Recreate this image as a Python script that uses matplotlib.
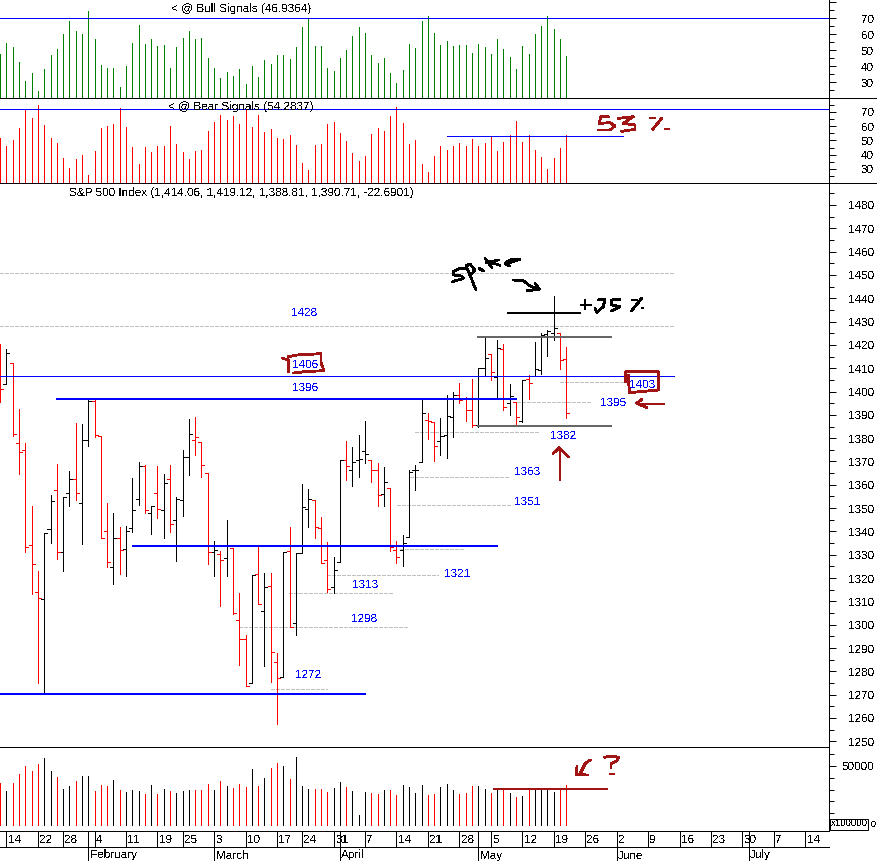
import matplotlib
matplotlib.use("Agg")
import matplotlib.pyplot as plt
from matplotlib.ticker import MultipleLocator, FixedLocator, NullFormatter, FixedFormatter

plt.rcParams['font.family'] = ['Liberation Sans', 'DejaVu Sans']
plt.rcParams['text.antialiased'] = False
plt.rcParams['text.hinting'] = 'no_hinting'

# ---------- data ----------
bull = [47.7,54.6,52.1,42.7,30.8,35.8,24.6,38.3,47.1,50.8,60.2,68.3,62.1,60.2,74.6,57.1,40.8,39,39,27.1,
        40.2,54.6,65.8,54,57.1,52.7,53.3,39,52.1,57.7,62.1,57.1,57.7,45.2,39,32.7,36.5,34,38.3,29,
        40.2,33.3,44,41.5,47.1,47.1,44.6,52.1,64.6,69.6,52.7,52.7,39,37.1,45.2,50.2,59,64.6,60.8,47.1,
        42.1,45.2,35.8,29.6,37.7,54,51.5,68.3,71.5,60.8,53.3,55.8,52.7,53.3,53.3,48.3,54,52.1,47.7,57.1,
        50.8,45.8,38.3,52.7,47.7,60.2,65.2,71.5,63.3,57.1,46.5]
bear = [51.7,46.1,50.3,58.7,71.3,65.7,74.8,60.8,51.7,48.2,37.7,30.7,37,39.8,25.8,42.6,58.7,60.1,61.5,72.7,
        59.4,45.4,33.5,45.4,41.9,46.1,46.1,60.1,47.5,41.9,37,42.6,43.3,56.6,62.9,67.8,64.3,67.1,61.5,72,
        59.4,67.8,55.9,58,51.7,51,53.8,46.8,34.2,29.3,46.8,47.5,61.5,62.9,55.2,49.6,41.2,35.6,39.1,54.5,
        58.7,56.6,67.1,73.4,62.2,47.5,50.3,33.5,27.9,39.1,46.1,43.3,46.1,48.2,46.1,51,46.1,48.2,53.1,42.6,
        48.9,53.8,63.6,48.9,53.8,43.3,38.4,30,37.7,44.7,53.8]
opens = [1420,1403.4,1412.4,1378.1,1375.1,1334.4,1313.9,1310.9,1340.9,1357.6,1331,1356.3,1362.7,1352.4,1379.4,1396.1,1381,1340,1324.6,1337.4,
         1332.3,1341.3,1353.7,1368,1348.1,1356.3,1349,1362.7,1344.7,1353.3,1372.1,1379.4,1378.4,1364.9,1331,1330.2,1328.5,1332.8,1302,1293.9,
         1274.9,1321.7,1305.9,1316.5,1283.9,1277.5,1331.5,1300.6,1330.6,1349.5,1353.5,1341.3,1327.6,1316.3,1327,1370.6,1366.2,1370.6,1374.3,1370.6,
         1366.3,1355.9,1358.6,1332,1332,1337.6,1366.3,1369.6,1388,1386.9,1379,1381.2,1389,1398.5,1396.8,1391.9,1385.6,1410.2,1416.1,1406.2,
         1418.2,1394.9,1395.6,1387.4,1405.2,1406.5,1409.1,1424.6,1425.1,1425.1,1414.06]
highs = [1420.6,1418.4,1412.4,1392.4,1378.1,1350.9,1323,1339.2,1355.6,1368.9,1354.6,1365.9,1386.3,1386,1396.3,1396.3,1381,1352.1,1347.9,1341.9,
         1342.3,1362.9,1369.7,1368.4,1350.9,1368,1364.6,1368.4,1354.6,1374.9,1388.1,1389,1378.4,1364.9,1335.9,1331.6,1344.9,1332.8,1313.5,1295.6,
         1321.3,1333.5,1322.3,1322.3,1287.8,1331,1342,1330.9,1360.3,1358.2,1353.5,1346.2,1335.5,1329,1370.6,1378.8,1376.2,1381.3,1387.3,1370.6,
         1369.3,1367.6,1358.6,1335.9,1338.5,1366.3,1368.5,1396.8,1390.6,1386.9,1388.6,1398.5,1399.8,1403.6,1397.8,1405.4,1410.2,1422.9,1416.1,1422.1,
         1420.4,1403.2,1395.6,1404.9,1407.1,1421.2,1425.1,1426.4,1440.9,1425.1,1419.12]
lows = [1395.6,1403.4,1381,1364.6,1331.1,1313.1,1275.1,1270.6,1335.1,1328.1,1323.1,1350.9,1353.4,1334.6,1376.6,1380.6,1337.3,1324.7,1317.4,1321.7,
        1320.9,1339.7,1351.4,1347.9,1338.9,1345.7,1337.1,1339.7,1327.3,1346.6,1364.1,1372.7,1363.3,1326,1320.9,1308,1321,1304.5,1282.8,1273.8,
        1274.9,1308.9,1282.5,1275.6,1257.5,1277.5,1299.2,1295.6,1330.6,1342,1337.2,1326.3,1314.2,1313.5,1327,1362,1359.5,1363.3,1369.3,1361.2,
        1350.9,1350.9,1331.6,1326.5,1325.2,1337.6,1357.8,1369.6,1379.6,1370.2,1372.8,1371.5,1380.7,1395.1,1387.4,1384.9,1384.9,1406.5,1404.9,1397.6,
        1392.1,1389.9,1385.5,1386.9,1396.8,1406.5,1407.5,1415.2,1422.1,1409.6,1388.81]
closes = [1401.3,1416.7,1381.6,1373.9,1333.4,1325.9,1311.3,1339.2,1352.9,1331,1354.6,1362.7,1356.3,1379.1,1396.1,1381.4,1337.4,1327.1,1337.4,1331.9,
          1340,1349.4,1367.9,1349.4,1350.9,1349.6,1360.6,1343,1353.9,1372.1,1382,1380.7,1368.3,1331,1331.9,1327.6,1333.9,1304.9,1293.9,1273.8,
          1321.3,1308.9,1316,1288.5,1277,1331,1299.2,1330.9,1350.5,1353.9,1341.9,1326.3,1315.3,1323.3,1370.6,1368.2,1369.8,1371.1,1373,1366.3,
          1355.5,1361.2,1333.3,1328.9,1334.9,1365.5,1366.3,1391,1387.5,1376.5,1380.9,1389.6,1398.5,1396.4,1392,1385.6,1409.9,1414.2,1408.2,1418.6,
          1393.4,1398.1,1389,1404.9,1403.5,1409.5,1424.2,1425.9,1427.1,1413.6,1390.71]
volume = [35300,28900,35300,43300,49700,45700,51300,57000,45700,40900,30500,32900,37700,41700,41700,28900,33700,32900,38500,29700,
          28100,29700,28900,26500,33700,26500,30500,28900,27300,28900,29700,29700,29700,34500,29700,36900,32900,31300,34500,32100,
          47300,32900,40100,48100,52900,49700,39300,57800,32900,30500,30500,30500,28100,31300,36100,32100,28900,8800,28100,27300,
          26500,29700,29700,25700,33700,32100,27300,33700,25700,26500,32100,34500,29700,26500,27300,32900,32900,30500,27300,30500,
          30500,27300,24100,24900,30500,30500,30500,30500,28100,30500,33700]
week_idx = [1,6,10,15,20,25,29,34,39,44,48,53,58,63,68,73,78,83,88,93,98,103,108,113,118,123,128]
week_lab = ['14','22','28','4','11','19','25','3','10','17','24','31','7','14','21','28','5','12','19','26','2','9','16','23','30','7','14']
month_idx = [14,34,54,76,98,119]
month_lab = ['February','March','April','May','June','July']
gray_levels = [(1450.7,0,107.1),(1428,0,107.1),(1404.3,89,99.3),(1395.7,82.2,93.9),(1382.7,65.9,85.5),(1363.5,65.2,80.7),
               (1351.5,63.1,81),(1332.3,63.6,73.9),(1321.5,52,69.6),(1313.8,45.9,62.6),(1298.9,38,65),(1272.5,43,52)]
thick_blue = [(1396.7,8.9,82.2),(1333.6,20.9,79.1),(1270.3,0,58.2)]
thick_gray = [(1423.3,75.8,97.3),(1385.3,75.8,97.3)]

W, H = 877, 861
BLUE, RED, GREEN, DRED, GLINE = '#0000ff', '#ff0000', '#008000', '#a01414', '#c0c0c0'
PX = 0.72  # one pixel in points at dpi 100
FS = 8.5
AXX = 828.7

fig = plt.figure(figsize=(W/100, H/100), dpi=100, facecolor='white')

def panel(top, bot, ylim):
    ax = fig.add_axes([0, 1-bot/H, AXX/W, (bot-top)/H])
    ax.set_xlim(-0.03, (AXX-0.2)/6.29)
    ax.set_ylim(*ylim)
    ax.patch.set_alpha(0)
    for s in ['top', 'bottom', 'left']:
        ax.spines[s].set_visible(False)
    ax.spines['right'].set_linewidth(PX)
    ax.spines['right'].set_antialiased(False)
    ax.xaxis.set_visible(False)
    ax.yaxis.tick_right()
    ax.tick_params(axis='y', which='major', length=5, width=PX, pad=27.6, labelsize=FS)
    ax.tick_params(axis='y', which='minor', length=3.6, width=PX)
    return ax

is_down = [closes[0] < 1425] + [closes[i] < closes[i-1] for i in range(1, len(closes))]
bar_col = [RED if d else 'black' for d in is_down]
idx = list(range(len(closes)))

# ---- signal panels ----
ax1 = panel(0, 98.3, (20, 20+98.3/1.6))
ax1.vlines(idx, 20, bull, colors=GREEN, linewidth=PX, antialiased=False)
ax1.hlines(70, -1, 140, colors=BLUE, linewidth=PX, antialiased=False, zorder=5)
ax2 = panel(98.3, 183.3, (20, 20+85/1.43))
ax2.vlines(idx, 20, bear, colors=RED, linewidth=PX, antialiased=False)
ax2.hlines(71.9, -1, 140, colors=BLUE, linewidth=PX, antialiased=False, zorder=5)
ax2.hlines(52.9, 71, 99, colors=BLUE, linewidth=PX, antialiased=False, zorder=5)
for ax in (ax1, ax2):
    ax.yaxis.set_major_locator(FixedLocator([30, 40, 50, 60, 70, 80]))
    ax.yaxis.set_major_formatter(FixedFormatter(['30', '40', '50', '60', '70', '']))
    ax.yaxis.set_minor_locator(MultipleLocator(5))
    ax.yaxis.set_minor_formatter(NullFormatter())
    for t in ax.get_yticklabels():
        t.set_ha('right')

# ---- price panel ----
sc = (741.3-205)/230
ax3 = panel(183.3, 747.3, (1250-(747.3-741.3)/sc, 1480+(205-183.3)/sc))
for y, a, b in gray_levels:
    ax3.hlines(y, a, b, colors=GLINE, linewidth=PX, linestyles=(0, (4, 2)), antialiased=False, zorder=1)
ax3.vlines(idx, lows, highs, colors=bar_col, linewidth=PX, antialiased=False, zorder=3)
ax3.hlines(opens, [i-0.48 for i in idx], idx, colors=bar_col, linewidth=PX, antialiased=False, zorder=3)
ax3.hlines(closes, idx, [i+0.48 for i in idx], colors=bar_col, linewidth=PX, antialiased=False, zorder=3)
for y, a, b in thick_blue:
    ax3.hlines(y, a, b, colors=BLUE, linewidth=2*PX, antialiased=False, zorder=5)
for y, a, b in thick_gray:
    ax3.hlines(y, a, b, colors='#666666', linewidth=2*PX, antialiased=False, zorder=5)
ax3.hlines(1406.5, -1, 107.1, colors=BLUE, linewidth=PX, antialiased=False, zorder=5)
ax3.hlines(1433.8, 80.6, 92.3, colors='black', linewidth=2*PX, antialiased=False, zorder=5)
ax3.yaxis.set_major_locator(MultipleLocator(10))
ax3.yaxis.set_minor_locator(MultipleLocator(5))
ax3.yaxis.set_minor_formatter(NullFormatter())
for t in ax3.get_yticklabels():
    t.set_ha('right')

# ---- volume panel ----
vs = 59/50000
ax4 = panel(747.3, 830.7, (-5.7/vs, 77.7/vs))
ax4.vlines(idx, 0, volume, colors=bar_col, linewidth=PX, antialiased=False)
ax4.hlines(30500, 78.3, 96.6, colors=DRED, linewidth=2*PX, antialiased=False, zorder=5)
ax4.yaxis.set_major_locator(FixedLocator([50000]))
ax4.yaxis.set_major_formatter(FixedFormatter(['50000']))
ax4.yaxis.set_minor_locator(MultipleLocator(10000))
ax4.yaxis.set_minor_formatter(NullFormatter())
for t in ax4.get_yticklabels():
    t.set_ha('right')

# ---- date rows ----
ax5 = fig.add_axes([0, 0, AXX/W, (H-830.7)/H])
ax5.set_xlim(-0.03, (AXX-0.2)/6.29)
ax5.set_ylim(H, 830.7)
ax5.axis('off')
ax5.vlines(week_idx, 830.7, 846.7, colors='black', linewidth=PX, antialiased=False)
ax5.vlines(month_idx, 830.7, 861, colors='black', linewidth=PX, antialiased=False)
for i, s in zip(week_idx, week_lab):
    ax5.text(i+0.25, 840, s, fontsize=FS, va='center', ha='left')
for i, s in zip(month_idx, month_lab):
    ax5.text(i+0.25, 855.5, s, fontsize=FS, va='center', ha='left')

# ---- overlay in picture pixels: frame lines, labels, hand drawing ----
ov = fig.add_axes([0, 0, 1, 1])
ov.set_xlim(0, W)
ov.set_ylim(H, 0)
ov.axis('off')
ov.patch.set_alpha(0)
for y, xe in [(98.3, W), (183.3, W), (747.3, AXX), (830.7, AXX), (846.7, AXX)]:
    ov.plot([0, xe], [y, y], color='black', lw=PX, antialiased=False, solid_capstyle='butt')

ov.text(171, 9, '< @ Bull Signals (46.9364)', fontsize=FS, va='center', ha='left')
ov.text(168, 107.5, '< @ Bear Signals (54.2837)', fontsize=FS, va='center', ha='left')
ov.text(69, 193.5, 'S&P 500 Index (1,414.06, 1,419.12, 1,388.81, 1,390.71, -22.6901)', fontsize=FS, va='center', ha='left')

for s, x, y in [('1428', 304, 312), ('1406', 305, 364), ('1396', 305, 387), ('1395', 613, 402), ('1403', 642, 384),
                ('1382', 563, 435), ('1363', 527, 471), ('1351', 527, 501), ('1321', 457, 573), ('1313', 365, 584),
                ('1298', 364, 618), ('1272', 308, 674)]:
    ov.text(x, y+0.5, s, color=BLUE, fontsize=FS, va='center', ha='center')

ov.text(849, 824.5, 'x100000', fontsize=6.9, va='center', ha='center',
        bbox=dict(boxstyle='square,pad=0.1', fc='white', ec='black', lw=PX))
ov.text(870.5, 824.5, '0', fontsize=6.5, va='center', ha='left')

def draw(ox, oy, strokes, color, lw=1.8):
    for st in strokes:
        ov.plot([ox+p[0]/3 for p in st], [oy+p[1]/3 for p in st], color=color, lw=lw*PX,
                antialiased=False, solid_joinstyle='round', solid_capstyle='round', zorder=8)

# 53 %
draw(580, 90, [[(85,80),(62,80),(58,100),(90,98),(105,108),(90,120),(55,120)],
               [(115,85),(160,80),(130,100),(165,105),(165,118),(125,124)],
               [(245,85),(218,118)], [(210,85),(225,85)], [(255,116),(268,116)]], DRED)
# box around 1406
draw(150, 180, [[(398,535),(415,540),(415,575)],
                [(415,530),(440,525),(513,521),(513,548),(522,572),(465,575),(430,579)]], DRED)
# box around 1403 and the two arrows
draw(420, 250, [[(617,395),(617,365),(715,365),(715,420),(660,425),(628,428),(625,375)],
                [(732,462),(660,462)], [(665,448),(650,460),(680,472)],
                [(420,690),(420,600)], [(400,610),(418,593),(445,620)]], DRED)
# Spike, arrow, +25%
draw(420, 250, [[(135,55),(118,55),(100,65),(100,75),(125,78),(130,85),(98,95)],
                [(138,48),(152,80),(167,118)], [(138,48),(150,42),(165,60),(150,78)], [(178,56),(190,62)],
                [(195,25),(215,52)], [(235,30),(200,38)], [(215,38),(240,46)],
                [(255,42),(300,28),(268,30),(255,42),(270,48)],
                [(280,90),(310,92),(330,108),(355,118)], [(345,100),(358,118),(322,122)],
                [(495,150),(495,178)], [(482,165),(512,165)],
                [(535,150),(555,147),(550,170),(530,187),(525,175)],
                [(600,148),(575,150),(575,165),(600,170),(575,182)],
                [(665,145),(635,182)], [(635,150),(650,150)], [(665,175),(670,175)]], 'black')
# volume arrow and question mark
draw(437, 740, [[(460,60),(445,70),(430,100)], [(420,80),(418,103),(452,105)],
                [(503,52),(520,48),(545,52),(540,62),(522,72),(522,82)], [(520,102),(532,102)]], DRED)

fig.savefig('out.png', dpi=100, facecolor='white')
